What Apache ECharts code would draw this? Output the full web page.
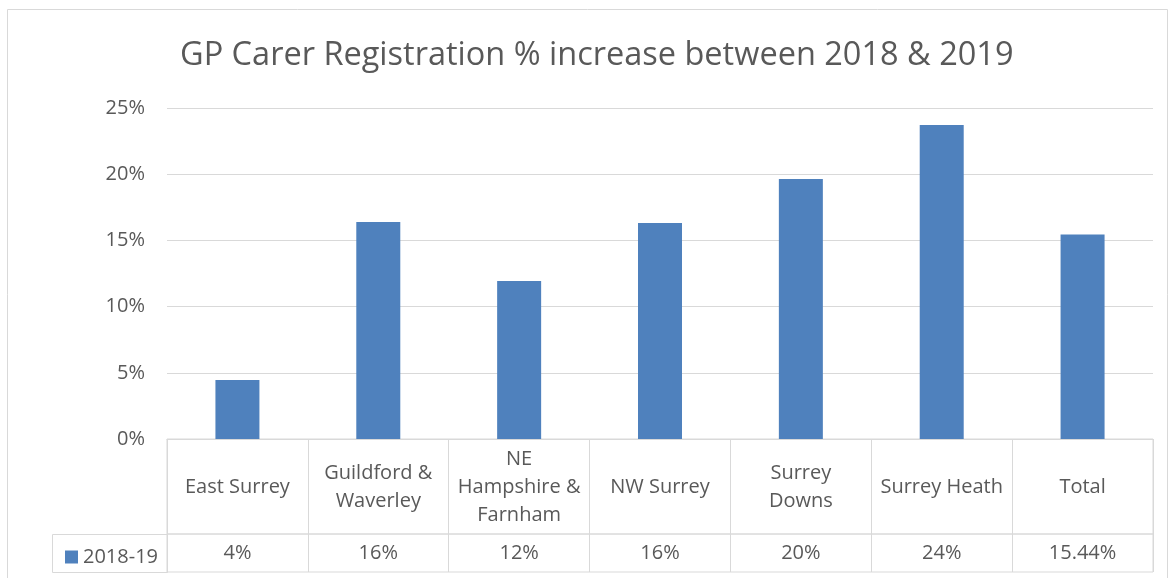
<!DOCTYPE html>
<html>
<head>
    <meta charset="utf-8">
    <title>GP Carer Registration</title>
    <script src="https://cdn.jsdelivr.net/npm/echarts@6/dist/echarts.min.js"></script>
    <style>
        html, body { margin: 0; padding: 0; background: #fff; }
    </style>
</head>
<body>
<div id="main" style="width: 1170px;height:578px;"></div>
<script type="text/javascript">
    // data
    const categories = ['East Surrey', 'Guildford &\nWaverley', 'NE\nHampshire &\nFarnham', 'NW Surrey',
        'Surrey\nDowns', 'Surrey Heath', 'Total'];
    const increase = [0.0446, 0.1639, 0.1193, 0.1631, 0.1964, 0.2372, 0.1544];
    const tableDecimals = [0, 0, 0, 0, 0, 0, 2];
    const seriesName = '2018-19';

    const txt = '#595959';
    const line = '#d9d9d9';
    const font = 'Open Sans';

    const myChart = echarts.init(document.getElementById('main'));

    const option = {
        animation: false,
        textStyle: {fontFamily: font},
        title: {
            text: 'GP Carer Registration % increase between 2018 & 2019',
            left: 175,
            top: 34,
            textStyle: {fontFamily: font, fontSize: 32.5, fontWeight: 'normal', color: txt}
        },
        legend: {
            left: 60,
            top: 542,
            icon: 'rect',
            itemWidth: 13,
            itemHeight: 13,
            data: [seriesName],
            textStyle: {fontFamily: font, fontSize: 20, color: txt}
        },
        grid: [
            {left: 167, width: 986, top: 108, height: 331},
            {left: 167, width: 986, top: 439, height: 95, show: true, borderColor: line, borderWidth: 1},
            {left: 167, width: 986, top: 534, height: 38, show: true, borderColor: line, borderWidth: 1}
        ],
        xAxis: [
            {
                type: 'category', gridIndex: 0, data: categories,
                axisLine: {lineStyle: {color: line}},
                axisTick: {show: false},
                axisLabel: {
                    interval: 0, margin: 48, verticalAlign: 'middle', lineHeight: 28,
                    fontFamily: font, fontSize: 20, color: txt
                }
            },
            {
                type: 'category', gridIndex: 1, data: categories,
                axisLine: {show: false}, axisTick: {show: false}, axisLabel: {show: false},
                splitLine: {show: true, interval: 0, lineStyle: {color: line}}
            },
            {
                type: 'category', gridIndex: 2, data: categories, position: 'top',
                axisLine: {show: false}, axisTick: {show: false},
                axisLabel: {
                    inside: true, interval: 0, margin: 19, verticalAlign: 'middle',
                    fontFamily: font, fontSize: 20, color: txt,
                    formatter: function (v, i) {
                        return (increase[i] * 100).toFixed(tableDecimals[i]) + '%';
                    }
                },
                splitLine: {show: true, interval: 0, lineStyle: {color: line}}
            }
        ],
        yAxis: [
            {
                type: 'value', gridIndex: 0, min: 0, max: 0.25, interval: 0.05,
                axisLine: {show: false}, axisTick: {show: false},
                splitLine: {lineStyle: {color: line}},
                axisLabel: {
                    margin: 22, fontFamily: font, fontSize: 20, color: txt,
                    formatter: function (v) { return Math.round(v * 100) + '%'; }
                }
            },
            {type: 'value', gridIndex: 1, show: false},
            {type: 'value', gridIndex: 2, show: false}
        ],
        graphic: [
            {
                type: 'rect', silent: true,
                shape: {x: 7.5, y: 9.5, width: 1160, height: 620},
                style: {fill: 'none', stroke: line, lineWidth: 1}
            },
            {
                type: 'rect', silent: true,
                shape: {x: 52.5, y: 534.5, width: 115, height: 38},
                style: {fill: 'none', stroke: line, lineWidth: 1}
            }
        ],
        series: [
            {
                name: seriesName,
                type: 'bar',
                xAxisIndex: 0,
                yAxisIndex: 0,
                barWidth: 44,
                data: increase,
                itemStyle: {color: '#4f81bd'}
            }
        ]
    };
    myChart.setOption(option);
</script>
</body>
</html>
